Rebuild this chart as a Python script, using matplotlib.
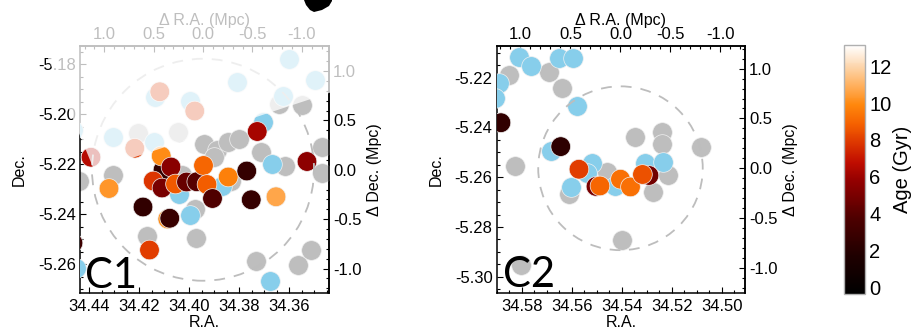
import numpy as np
import matplotlib
matplotlib.use("Agg")
import matplotlib.pyplot as plt
from matplotlib.colors import LinearSegmentedColormap, Normalize
from matplotlib.cm import ScalarMappable
from matplotlib.patches import Circle, Polygon
from matplotlib.ticker import MultipleLocator, FuncFormatter

plt.rcParams['font.family'] = ['Liberation Sans', 'DejaVu Sans']
plt.rcParams['axes.unicode_minus'] = False

# ---------------- C1 members ----------------
c1_gray_ra = [34.4440, 34.4303, 34.4168, 34.3971, 34.3940, 34.3888, 34.3843, 34.3798,
              34.3712, 34.3616, 34.3469, 34.3466, 34.3732, 34.3564, 34.3514, 34.3832,
              34.4029, 34.3976, 34.3640, 34.3549, 34.4204, 34.4044, 34.3900]
c1_gray_dec = [-5.2267, -5.2241, -5.2487, -5.2496, -5.2119, -5.2143, -5.2111, -5.2100,
               -5.2151, -5.2207, -5.2131, -5.2233, -5.2588, -5.2603, -5.2543, -5.2267,
               -5.2243, -5.2380, -5.1959, -5.1963, -5.2076, -5.2070, -5.2172]

c1_blue_ra = [34.4452, 34.3998, 34.4040, 34.3868, 34.3670, 34.3676, 34.3704, 34.3601,
              34.3494, 34.3806, 34.3623, 34.4136, 34.3996, 34.4464, 34.4304, 34.4140]
c1_blue_dec = [-5.2615, -5.2403, -5.2317, -5.2287, -5.2197, -5.2665, -5.2031, -5.1777,
               -5.1863, -5.1869, -5.1925, -5.1931, -5.1945, -5.2063, -5.2089, -5.2110]

c1_age_ra = [34.4320, 34.4184, 34.4158, 34.4464, 34.4104, 34.4111, 34.4143, 34.4108,
             34.4072, 34.4054, 34.4010, 34.4085, 34.4077, 34.3969, 34.3942, 34.3928,
             34.3906, 34.3843, 34.3769, 34.3751, 34.3727, 34.3652, 34.3528, 34.4392,
             34.4117, 34.3977, 34.4217]
c1_age_dec = [-5.2297, -5.2371, -5.2543, -5.2515, -5.2223, -5.2167, -5.2267, -5.2295,
              -5.2211, -5.2279, -5.2271, -5.2419, -5.2416, -5.2270, -5.2205, -5.2281,
              -5.2337, -5.2251, -5.2227, -5.2342, -5.2069, -5.2330, -5.2189, -5.2172,
              -5.1910, -5.1987, -5.2136]
c1_age = [10.3, 2.5, 8.0, 3.0, 2.5, 10.0, 7.8, 5.0,
          5.5, 8.7, 4.5, 10.0, 2.8, 4.0, 9.0, 8.8,
          3.8, 9.7, 2.7, 2.7, 6.2, 10.7, 5.6, 6.6,
          7.9, 7.9, 7.9]

# ---------------- C2 members ----------------
c2_gray_ra = [34.5851, 34.5691, 34.5638, 34.5828, 34.5458, 34.5611, 34.5398, 34.5803,
              34.5347, 34.5240, 34.5240, 34.5084, 34.5214, 34.5274]
c2_gray_dec = [-5.2189, -5.2176, -5.2243, -5.2555, -5.2578, -5.2667, -5.2852, -5.2954,
               -5.2440, -5.2419, -5.2468, -5.2477, -5.2593, -5.2658]

c2_blue_ra = [34.5811, 34.5762, 34.5891, 34.5905, 34.5651, 34.5594, 34.5578, 34.5682,
              34.5518, 34.5539, 34.5604, 34.5307, 34.5234, 34.5427]
c2_blue_dec = [-5.2118, -5.2153, -5.2222, -5.2283, -5.2122, -5.2122, -5.2314, -5.2493,
               -5.2541, -5.2583, -5.2638, -5.2543, -5.2537, -5.2635]

c2_age_ra = [34.5883, 34.5644, 34.5571, 34.5503, 34.5487, 34.5405, 34.5365, 34.5291, 34.5317]
c2_age_dec = [-5.2381, -5.2477, -5.2568, -5.2637, -5.2635, -5.2608, -5.2639, -5.2593, -5.2589]
c2_age = [2.5, 2.3, 8.0, 5.0, 9.0, 9.3, 9.3, 4.8, 8.5]

age_ticks = [0, 2, 4, 6, 8, 10, 12]

# red-temperature style colour table
cmap = LinearSegmentedColormap.from_list("redtemp", [
    (0.00, (0.00, 0.00, 0.00)),
    (0.15, (0.12, 0.00, 0.00)),
    (0.30, (0.30, 0.00, 0.00)),
    (0.455, (0.58, 0.00, 0.00)),
    (0.53, (0.75, 0.05, 0.00)),
    (0.61, (0.87, 0.22, 0.00)),
    (0.685, (0.96, 0.38, 0.00)),
    (0.76, (1.00, 0.53, 0.05)),
    (0.835, (1.00, 0.68, 0.35)),
    (0.91, (0.99, 0.83, 0.66)),
    (1.00, (1.00, 1.00, 1.00)),
])
norm = Normalize(vmin=-0.35, vmax=13.15)

GRAY = '#bebebe'
BLUE = '#87ceeb'
MS = 200
EDGE = dict(edgecolors='#f0f0f0', linewidths=0.5)
FS = 12

W, H = 919, 334
fig = plt.figure(figsize=(W / 100, H / 100), dpi=100)


def frac(x0, y0, x1, y1):
    return [x0 / W, 1 - y1 / H, (x1 - x0) / W, (y1 - y0) / H]


def mpc_fmt(v, p):
    return "0.0" if abs(v) < 1e-9 else f"{v:.1f}"


def panel(rect, xlim, ylim, centre, kpc, radius, gray, blue, aged, name, name_xy):
    ax = fig.add_axes(rect)
    ax.set_xlim(*xlim)
    ax.set_ylim(*ylim)
    ax.scatter(gray[0], gray[1], s=MS, c=GRAY, zorder=2, **EDGE)
    ax.scatter(blue[0], blue[1], s=MS, c=BLUE, zorder=3, **EDGE)
    ax.scatter(aged[0], aged[1], s=MS, c=aged[2], cmap=cmap, norm=norm, zorder=4, **EDGE)
    ax.add_patch(Circle(centre, radius, fill=False, ec='#bdbdbd', lw=1.3,
                        ls=(0, (6, 5)), zorder=5))

    ax.xaxis.set_major_locator(MultipleLocator(0.02))
    ax.xaxis.set_minor_locator(MultipleLocator(0.005))
    ax.yaxis.set_major_locator(MultipleLocator(0.02))
    ax.yaxis.set_minor_locator(MultipleLocator(0.005))
    ax.xaxis.set_major_formatter(FuncFormatter(lambda v, p: f"{v:.2f}"))
    ax.yaxis.set_major_formatter(FuncFormatter(lambda v, p: f"{v:.2f}"))
    ax.tick_params(which='both', direction='in', top=False, right=False,
                   labelsize=FS, width=0.8)
    ax.tick_params(which='major', length=4.5)
    ax.tick_params(which='minor', length=2.3)
    ax.tick_params(axis='x', pad=4)
    ax.tick_params(axis='y', pad=3)
    for s in ax.spines.values():
        s.set_linewidth(1.1)
    ax.set_xlabel("R.A.", fontsize=11.5, labelpad=1)
    ax.set_ylabel("Dec.", fontsize=11.5, labelpad=8)

    rc, dc = centre
    top = ax.secondary_xaxis('top', functions=(lambda r: (r - rc) / kpc,
                                                lambda m: rc + m * kpc))
    right = ax.secondary_yaxis('right', functions=(lambda d: (d - dc) / kpc,
                                                    lambda m: dc + m * kpc))
    for sec, axis in ((top, top.xaxis), (right, right.yaxis)):
        axis.set_major_locator(MultipleLocator(0.5))
        axis.set_minor_locator(MultipleLocator(0.1))
        axis.set_major_formatter(FuncFormatter(mpc_fmt))
        sec.tick_params(which='both', direction='in', labelsize=FS, width=0.8, pad=3)
        sec.tick_params(which='major', length=4.5)
        sec.tick_params(which='minor', length=2.3)
        for s in sec.spines.values():
            s.set_linewidth(1.1)
    top.set_xlabel("\u0394 R.A. (Mpc)", fontsize=11.5, labelpad=1)
    right.set_ylabel("\u0394 Dec. (Mpc)", fontsize=11.5, labelpad=4)

    ax.text(name_xy[0], name_xy[1], name, transform=ax.transAxes, family='Lato',
            fontsize=30, ha='left', va='baseline', zorder=6)
    return ax


panel(frac(80, 46, 329, 293), (34.4436, 34.3440), (-5.2715, -5.1727),
      (34.3944, -5.2222), 0.0395, 0.0444,
      (c1_gray_ra, c1_gray_dec), (c1_blue_ra, c1_blue_dec),
      (c1_age_ra, c1_age_dec, c1_age), "C1", (0.02, 0.02))

panel(frac(496.7, 46, 745, 293), (34.5900, 34.4907), (-5.3065, -5.2073),
      (34.5405, -5.2564), 0.0400, 0.0329,
      (c2_gray_ra, c2_gray_dec), (c2_blue_ra, c2_blue_dec),
      (c2_age_ra, c2_age_dec, c2_age), "C2", (0.025, 0.025))

# colour bar
cax = fig.add_axes(frac(844.3, 45, 865, 294))
cb = fig.colorbar(ScalarMappable(norm=norm, cmap=cmap), cax=cax)
cb.set_ticks(age_ticks)
cb.ax.tick_params(length=0, labelsize=14.5, pad=3)
cb.outline.set_edgecolor('#b0b0b0')
cb.outline.set_linewidth(1.0)
cb.set_label("Age (Gyr)", fontsize=14.5, labelpad=1)

# translucent sheet over the upper left corner, and the dark tab above it
sheet = [(24, 0), (94.3, 170.4), (420, 63), (420, 0)]
fig.add_artist(Polygon([(x / W, 1 - y / H) for x, y in sheet], closed=True,
                       transform=fig.transFigure, fc='white', ec='none',
                       alpha=0.75, zorder=20))
tab = [(304, 0), (306, 5), (310, 10), (314, 12), (322, 10), (329, 6), (332, 1), (332, 0)]
fig.add_artist(Polygon([(x / W, 1 - y / H) for x, y in tab], closed=True,
                       transform=fig.transFigure, fc='black', ec='none', zorder=21))

fig.savefig("out.png", dpi=100)
